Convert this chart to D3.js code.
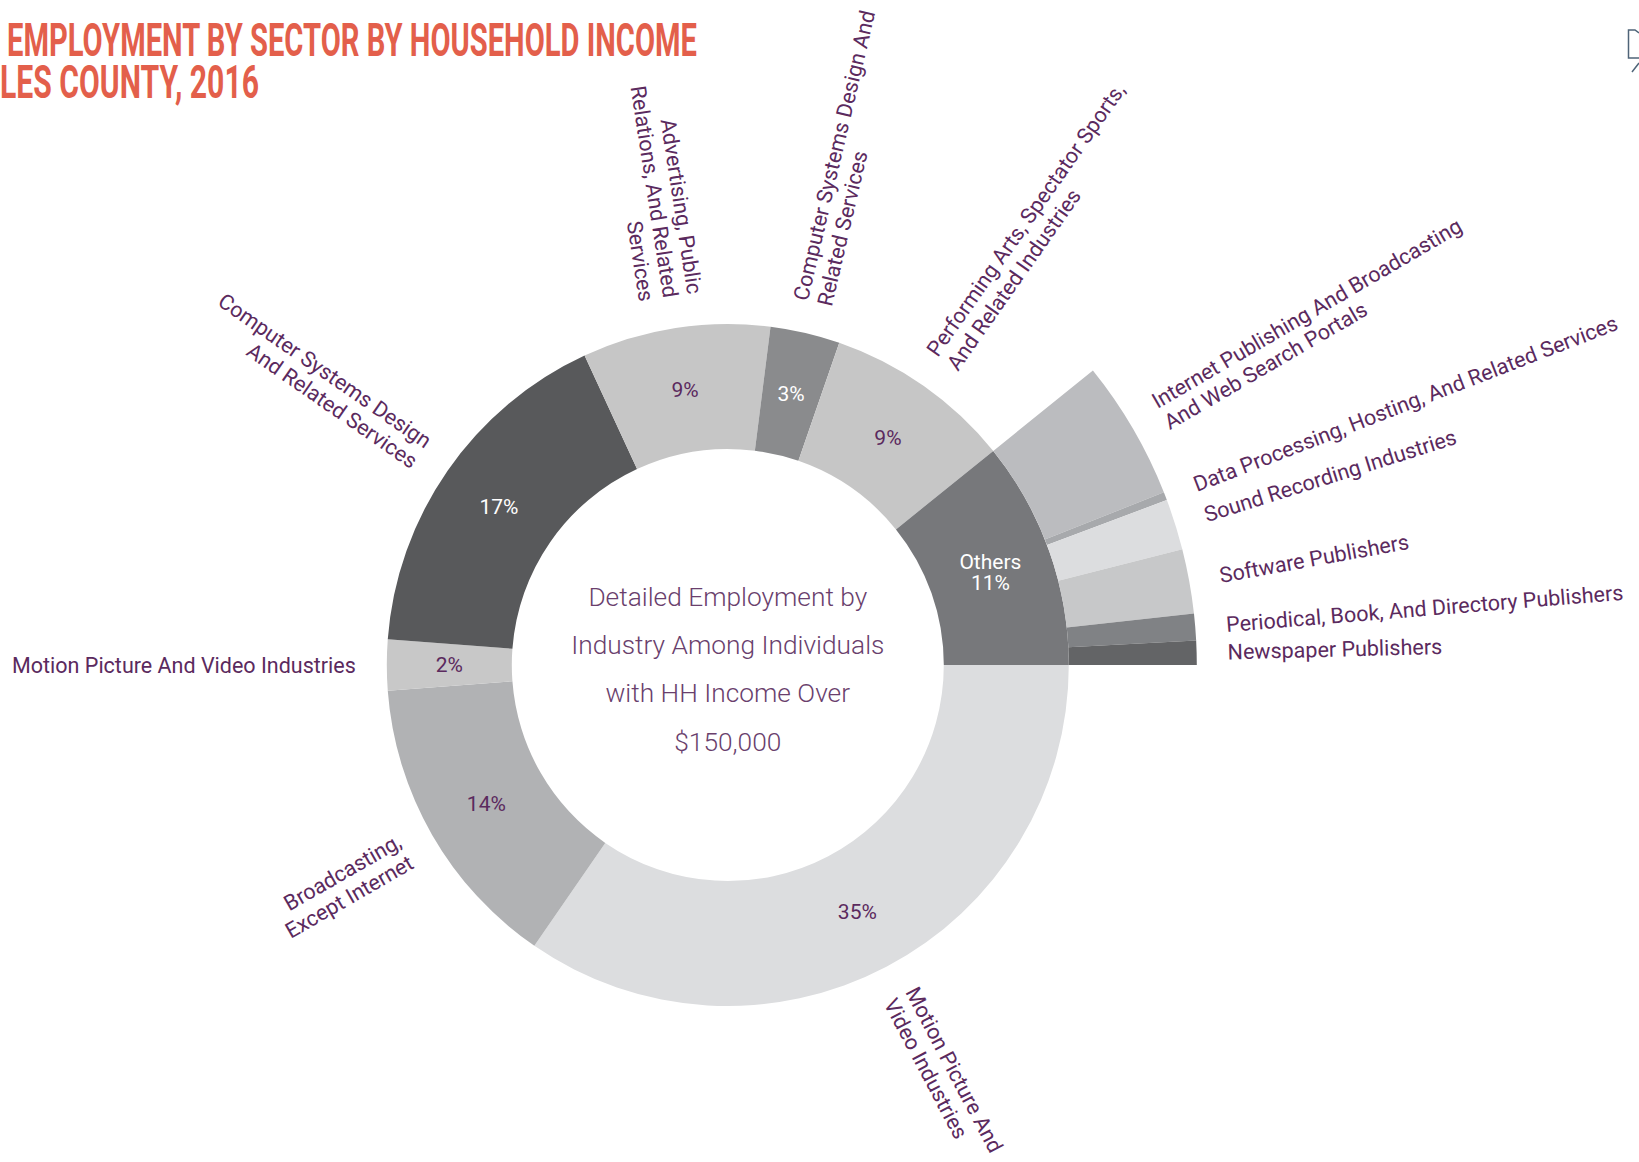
<!DOCTYPE html>
<html><head><meta charset="utf-8">
<script src="https://cdn.jsdelivr.net/npm/d3@7"></script>
<style>body{margin:0;background:#fff} svg{display:block;font-family:Roboto,"Noto Sans",sans-serif}</style>
</head><body>
<svg id="chart" width="1639" height="1162"></svg>
<script>
// ---- data ----
const titleLines = ["EMPLOYMENT BY SECTOR BY HOUSEHOLD INCOME", "LES COUNTY, 2016"];
const centerLines = ["Detailed Employment by", "Industry Among Individuals", "with HH Income Over", "$150,000"];

const sectorLabels = [
  ["Motion Picture And", "Video Industries"],
  ["Broadcasting,", "Except Internet"],
  ["Motion Picture And Video Industries"],
  ["Computer Systems Design", "And Related Services"],
  ["Advertising, Public", "Relations, And Related", "Services"],
  ["Computer Systems Design And", "Related Services"],
  ["Performing Arts, Spectator Sports,", "And Related Industries"],
  ["Others"]
];
const sectorValues = [34.6, 14.2, 2.4, 16.9, 8.9, 3.3, 8.9, 10.8];
const sectorColors = ["#dcdddf", "#b1b2b4", "#c8c8c8", "#58595b", "#c6c6c6", "#8a8b8d", "#c6c6c6", "#77787b"];

const otherLabels = [
  ["Internet Publishing And Broadcasting", "And Web Search Portals"],
  ["Data Processing, Hosting, And Related Services"],
  ["Sound Recording Industries"],
  ["Software Publishers"],
  ["Periodical, Book, And Directory Publishers"],
  ["Newspaper Publishers"]
];
const otherValues = [4.8, 0.28, 1.75, 2.22, 0.92, 0.83];
const otherColors = ["#bbbcbf", "#a7a9ac", "#dcdddf", "#c7c8c9", "#808285", "#636466"];

// ---- layout ----
const svg = d3.select("#chart");
const cx = 727.8, cy = 665;
const rIn = 216, rOut = 341, rSubOut = 469;
const labelGap = 31, lineH = 24.5, labelSize = 21.5;
const purple = "#5b2a5e";

// title
const title = svg.append("g").attr("fill", "#e35f4b")
  .style("font-family", "Roboto, 'Liberation Sans', sans-serif").style("font-weight", 700);
title.append("text").attr("x", 7).attr("y", 55.5).attr("font-size", 46)
  .attr("textLength", 690).attr("lengthAdjust", "spacingAndGlyphs").text(titleLines[0]);
title.append("text").attr("x", 0).attr("y", 98).attr("font-size", 46)
  .attr("textLength", 259).attr("lengthAdjust", "spacingAndGlyphs").text(titleLines[1]);

// small icon top-right
svg.append("path").attr("d", "M1639,33 L1635,30 L1628.5,30 L1628.5,58 L1639,58 M1632,72 L1639,63")
  .attr("fill", "none").attr("stroke", "#4f6478").attr("stroke-width", 1.5);

const g = svg.append("g").attr("transform", `translate(${cx},${cy})`);

const pie = d3.pie().sort(null).value(d => d)
  .startAngle(Math.PI / 2).endAngle(Math.PI / 2 + 2 * Math.PI);
const arcs = pie(sectorValues);
const arc = d3.arc().innerRadius(rIn).outerRadius(rOut);

const othersArc = arcs[arcs.length - 1];
const subPie = d3.pie().sort(null).value(d => d)
  .startAngle(othersArc.startAngle).endAngle(othersArc.endAngle);
const subArcs = subPie(otherValues);
const subArc = d3.arc().innerRadius(rOut).outerRadius(rSubOut);

g.selectAll("path.main").data(arcs).join("path").attr("class", "main")
  .attr("d", arc).attr("fill", (d, i) => sectorColors[i]);
g.selectAll("path.sub").data(subArcs).join("path").attr("class", "sub")
  .attr("d", subArc).attr("fill", (d, i) => otherColors[i]);

function radialLabel(lines, a, r) {
  const deg = a * 180 / Math.PI;
  const right = Math.sin(a) > 1e-6;
  const rot = right ? deg - 90 : deg - 270;
  const x = r * Math.sin(a), y = -r * Math.cos(a);
  const t = g.append("text")
    .attr("transform", `translate(${x},${y}) rotate(${rot})`)
    .attr("text-anchor", right ? "start" : "end")
    .attr("fill", purple).attr("font-size", labelSize);
  lines.forEach((ln, i) => t.append("tspan").attr("x", 0)
    .attr("y", (i - (lines.length - 1) / 2) * lineH).attr("dy", "0.35em").text(ln));
}

// outer labels for main sectors (except Others)
arcs.forEach((d, i) => {
  if (i === arcs.length - 1) return;
  radialLabel(sectorLabels[i], (d.startAngle + d.endAngle) / 2, rOut + labelGap);
});
subArcs.forEach((d, i) => {
  radialLabel(otherLabels[i], (d.startAngle + d.endAngle) / 2, rSubOut + labelGap);
});

// percentage labels
arcs.forEach((d, i) => {
  const [x, y] = arc.centroid(d);
  const dark = d3.hsl(sectorColors[i]).l < 0.6;
  const t = g.append("text").attr("text-anchor", "middle").attr("font-size", 21)
    .attr("fill", dark ? "#ffffff" : purple);
  const lines = i === arcs.length - 1
    ? [sectorLabels[i][0], Math.round(d.data) + "%"]
    : [Math.round(d.data) + "%"];
  lines.forEach((ln, k) => t.append("tspan").attr("x", x)
    .attr("y", y + (k - (lines.length - 1) / 2) * 21.5).attr("dy", "0.35em").text(ln));
});

// center text
const ct = g.append("text").attr("text-anchor", "middle").attr("fill", "#6a3f6d")
  .attr("font-size", 26.3).style("font-weight", 300);
centerLines.forEach((ln, i) => ct.append("tspan").attr("x", 0)
  .attr("y", -59 + i * 48.2).text(ln));
</script>
</body></html>
